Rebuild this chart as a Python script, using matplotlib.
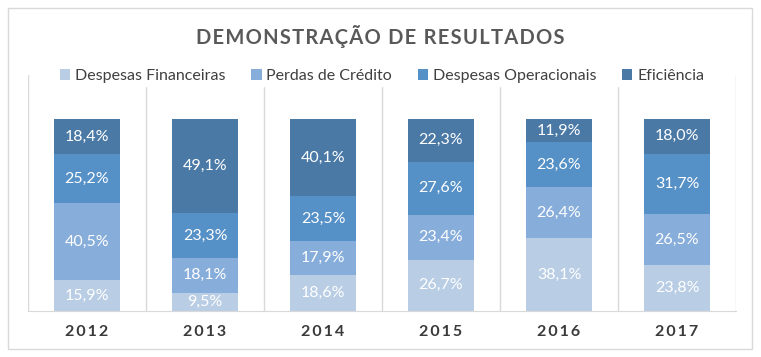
import matplotlib.pyplot as plt
from matplotlib.patches import Rectangle
import numpy as np

years = ["2012", "2013", "2014", "2015", "2016", "2017"]
series_names = ["Despesas Financeiras", "Perdas de Crédito", "Despesas Operacionais", "Eficiência"]
desp_financeiras = [15.9, 9.5, 18.6, 26.7, 38.1, 23.8]
perdas_credito = [40.5, 18.1, 17.9, 23.4, 26.4, 26.5]
desp_operacionais = [25.2, 23.3, 23.5, 27.6, 23.6, 31.7]
eficiencia = [18.4, 49.1, 40.1, 22.3, 11.9, 18.0]

colors = ["#b9cde5", "#87addb", "#5590c6", "#4a79a6"]

plt.rcParams["font.family"] = ["Lato", "DejaVu Sans"]

fig = plt.figure(figsize=(7.61, 3.57), dpi=100)
fig.patches.append(Rectangle((8 / 761, 8 / 357), 744 / 761, 341 / 357, transform=fig.transFigure,
                             fill=False, edgecolor="#d9d9d9", linewidth=1))

ax = fig.add_axes([28 / 761, 46 / 357, 708 / 761, 236 / 357])
x = np.arange(len(years))
data = [desp_financeiras, perdas_credito, desp_operacionais, eficiencia]
totals = np.sum(data, axis=0)
bottom = np.zeros(len(years))
for name, vals, c in zip(series_names, data, colors):
    frac = np.array(vals) / totals
    ax.bar(x, frac, 0.56, bottom=bottom, color=c, label=name, zorder=3)
    for xi, b, f, v in zip(x, bottom, frac, vals):
        ax.text(xi, b + f / 2, f"{v:.1f}%".replace(".", ","), ha="center", va="center",
                color="white", fontsize=11.5, zorder=4)
    bottom += frac

ax.set_xlim(-0.5, len(years) - 0.5)
ax.set_ylim(0, 1.229)
for b in np.arange(-0.5, len(years), 1.0):
    ax.axvline(b, color="#d9d9d9", linewidth=1, zorder=1)
for s in ["top", "left", "right"]:
    ax.spines[s].set_visible(False)
ax.spines["bottom"].set_color("#d9d9d9")
ax.set_yticks([])
ax.set_xticks(x)
ax.set_xticklabels(["\u2009".join(y) for y in years], fontsize=11.5, color="#3a3a3a",
                   fontweight="bold")
ax.tick_params(axis="x", length=0, pad=10)

ax.legend(loc="center", bbox_to_anchor=(0.5, (236 - 1) / 236), ncol=4, frameon=True,
          facecolor="white", edgecolor="white", framealpha=1, fontsize=11.5,
          handlelength=0.65, handleheight=0.65, handletextpad=0.3, columnspacing=1.6,
          borderpad=0.2, labelcolor="#404040")

fig.text(0.5, 1 - 37 / 357, "\u200a".join("DEMONSTRAÇÃO DE RESULTADOS"), ha="center", va="center",
         fontsize=14.5, fontweight="bold", color="#595959")

fig.savefig("out.png", dpi=100)
